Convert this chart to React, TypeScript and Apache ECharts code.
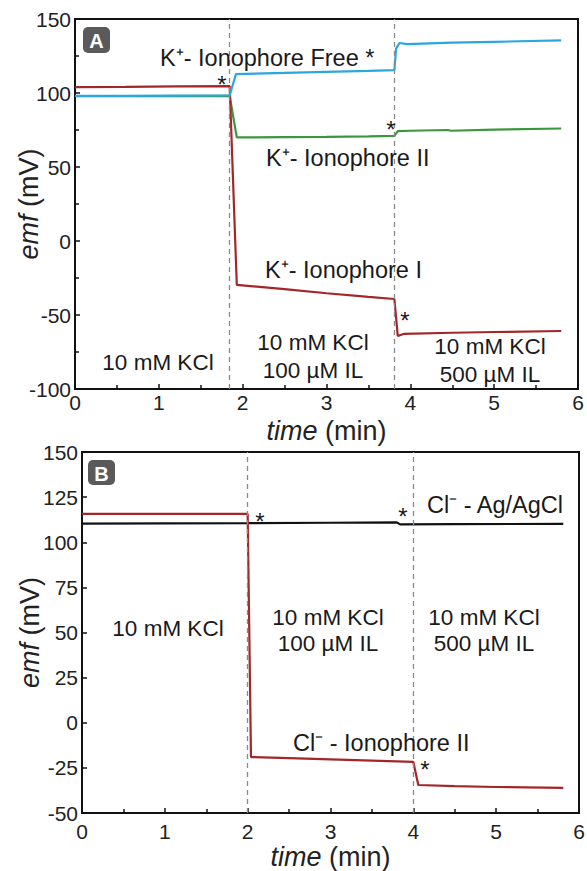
import React, { useEffect, useRef } from 'react';
import * as echarts from 'echarts';

const FONT = "'Liberation Sans', Arial, Helvetica, sans-serif";

// ---- Panel A data (time in min, emf in mV) ----
const tA_ionI = [0, 0.6, 1.2, 1.845, 1.93, 2.5, 3.0, 3.5, 3.81, 3.85, 3.92, 4.5, 5.0, 5.8];
const vA_ionI = [104, 104.2, 104.5, 104.7, -29.7, -32.5, -35.3, -37.8, -39.2, -64.2, -62.8, -62.0, -61.5, -60.8];
const tA_free = [0, 0.6, 1.2, 1.845, 1.92, 2.5, 3.0, 3.5, 3.81, 3.83, 3.87, 3.96, 4.5, 5.0, 5.8];
const vA_free = [98, 98.1, 98.2, 98.3, 112.8, 113.6, 114.3, 115, 115.5, 130, 133.8, 133, 134, 134.6, 135.5];
const tA_ionII = [0, 1.845, 1.93, 2.5, 3.0, 3.5, 3.81, 3.85, 4.0, 4.45, 4.48, 5.0, 5.8];
const vA_ionII = [97.8, 98, 70, 70.2, 70.4, 70.7, 71, 74.3, 74.5, 75, 74.5, 75.3, 76];
const dashA = [1.845, 3.81];

// ---- Panel B data ----
const tB_ionII = [0, 1.0, 2.0, 2.04, 2.5, 3.0, 3.5, 4.0, 4.06, 4.5, 5.0, 5.81];
const vB_ionII = [115.7, 115.7, 115.7, -19, -19.6, -20.3, -21, -21.7, -34.5, -35.1, -35.6, -36.1];
const tB_ag = [0, 1.0, 2.0, 3.0, 3.8, 3.84, 4.5, 5.81];
const vB_ag = [110.3, 110.5, 110.6, 110.8, 111, 109.9, 110, 110.2];
const dashB = [2.0, 4.0];

const zip = (t: number[], v: number[]) => t.map((x, i) => [x, v[i]]);

const C_RED = '#a3262a';
const C_BLUE = '#2aa7dc';
const C_GREEN = '#3b963f';
const C_BLACK = '#111111';

function xAxisCfg(gridIndex: number, margin: number, gap: number) {
  return {
    type: 'value', gridIndex, min: 0, max: 6, interval: 1,
    axisLine: { show: true, onZero: false, lineStyle: { color: '#111', width: 2 } },
    axisTick: { show: true, inside: true, length: 5, lineStyle: { color: '#111', width: 1.5 } },
    minorTick: { show: true, splitNumber: 2, length: 4, lineStyle: { color: '#111', width: 1.5 } },
    splitLine: { show: false },
    axisLabel: { fontSize: 21, color: '#222', margin, fontFamily: FONT, lineHeight: 21 },
    name: '{i|time} (min)', nameLocation: 'middle', nameGap: gap, nameMoveOverlap: false,
    nameTextStyle: { fontSize: 27, color: '#222', fontFamily: FONT, lineHeight: 27,
      rich: { i: { fontStyle: 'italic', fontSize: 27, fontFamily: FONT, color: '#222', lineHeight: 27 } } },
  };
}

function yAxisCfg(gridIndex: number, min: number, max: number, interval: number, minor: boolean, gap: number) {
  return {
    type: 'value', gridIndex, min, max, interval,
    axisLine: { show: true, onZero: false, lineStyle: { color: '#111', width: 2 } },
    axisTick: { show: true, inside: true, length: 5, lineStyle: { color: '#111', width: 1.5 } },
    minorTick: { show: minor, splitNumber: 2, length: 4, lineStyle: { color: '#111', width: 1.5 } },
    splitLine: { show: false },
    axisLabel: { fontSize: 21, color: '#222', margin: 4, fontFamily: FONT },
    name: '{i|emf} (mV)', nameLocation: 'middle', nameGap: gap, nameRotate: 90, nameMoveOverlap: false,
    nameTextStyle: { fontSize: 27, color: '#222', fontFamily: FONT, lineHeight: 27,
      rich: { i: { fontStyle: 'italic', fontSize: 27, fontFamily: FONT, color: '#222', lineHeight: 27 } } },
  };
}

function lineSeries(data: number[][], color: string, axis: number, dashes?: number[]) {
  const s: any = {
    type: 'line', xAxisIndex: axis, yAxisIndex: axis, data, showSymbol: false, symbol: 'none',
    lineStyle: { color, width: 2.2 }, z: 3,
  };
  if (dashes) {
    s.markLine = {
      silent: true, symbol: ['none', 'none'], label: { show: false },
      lineStyle: { type: [5, 4], color: '#8a8a8a', width: 1.3 },
      data: dashes.map((x) => ({ xAxis: x })),
    };
  }
  return s;
}

function txt(x: number, y: number, text: string, align: string = 'left', size = 22.5, lh = 28) {
  return {
    type: 'text', x, y, z: 10,
    style: { text, fontSize: size, fontFamily: FONT, fill: '#1a1a1a', align, verticalAlign: 'middle', lineHeight: lh },
  };
}

function star(x: number, y: number) {
  return txt(x, y, '*', 'center', 24, 18);
}

function badge(x: number, y: number, w: number, h: number, label: string) {
  return [
    { type: 'rect', shape: { x, y, width: w, height: h, r: 5 }, style: { fill: '#5a5a5a' }, z: 10 },
    { type: 'text', x: x + w / 2, y: y + h / 2 + 1, z: 11,
      style: { text: label, fontSize: 20, fontWeight: 'bold', fontFamily: FONT, fill: '#fff', align: 'center', verticalAlign: 'middle' } },
  ];
}

export default function App() {
  const ref = useRef<HTMLDivElement>(null);
  useEffect(() => {
    document.body.style.margin = '0';
    if (!ref.current) return;
    const chart = echarts.init(ref.current, null, { renderer: 'svg' });
    const option: any = {
      animation: false,
      backgroundColor: '#ffffff',
      grid: [
        { left: 75, top: 19, right: 9, bottom: 482, containLabel: false, outerBoundsMode: 'none',
          show: true, borderColor: '#111', borderWidth: 2, backgroundColor: 'transparent' },
        { left: 82, top: 452, right: 8, bottom: 58, containLabel: false, outerBoundsMode: 'none',
          show: true, borderColor: '#111', borderWidth: 2, backgroundColor: 'transparent' },
      ],
      xAxis: [xAxisCfg(0, 3, 28), xAxisCfg(1, 8, 30)],
      yAxis: [yAxisCfg(0, -100, 150, 50, true, 33), yAxisCfg(1, -50, 150, 25, false, 39)],
      series: [
        lineSeries(zip(tA_ionII, vA_ionII), C_GREEN, 0, dashA),
        lineSeries(zip(tA_ionI, vA_ionI), C_RED, 0),
        lineSeries(zip(tA_free, vA_free), C_BLUE, 0),
        lineSeries(zip(tB_ag, vB_ag), C_BLACK, 1, dashB),
        lineSeries(zip(tB_ionII, vB_ionII), C_RED, 1),
      ],
      graphic: [
        ...badge(83, 27, 27, 26, 'A'),
        txt(160, 58, 'K⁺- Ionophore Free *', 'left', 23.5, 22),
        star(222, 84),
        txt(266, 158, 'K⁺- Ionophore II', 'left', 23.5, 22),
        star(391, 129),
        txt(265, 270, 'K⁺- Ionophore I', 'left', 23.5, 22),
        star(405, 320),
        txt(158, 362, '10 mM KCl', 'center', 22.5, 22),
        txt(313, 356, '10 mM KCl\n100 µM IL', 'center'),
        txt(490, 360, '10 mM KCl\n500 µM IL', 'center'),
        ...badge(88, 460, 27, 25, 'B'),
        star(260, 521),
        star(403, 516),
        txt(427, 505, 'Cl⁻ - Ag/AgCl', 'left', 23.5, 22),
        txt(168, 628, '10 mM KCl', 'center', 22.5, 22),
        txt(328, 630, '10 mM KCl\n100 µM IL', 'center', 22.5, 26),
        txt(484, 630, '10 mM KCl\n500 µM IL', 'center', 22.5, 26),
        txt(293, 743, 'Cl⁻ - Ionophore II', 'left', 23.5, 22),
        star(425, 769),
      ],
    };
    chart.setOption(option);
    return () => chart.dispose();
  }, []);
  return <div ref={ref} style={{ width: 587, height: 871 }} />;
}
